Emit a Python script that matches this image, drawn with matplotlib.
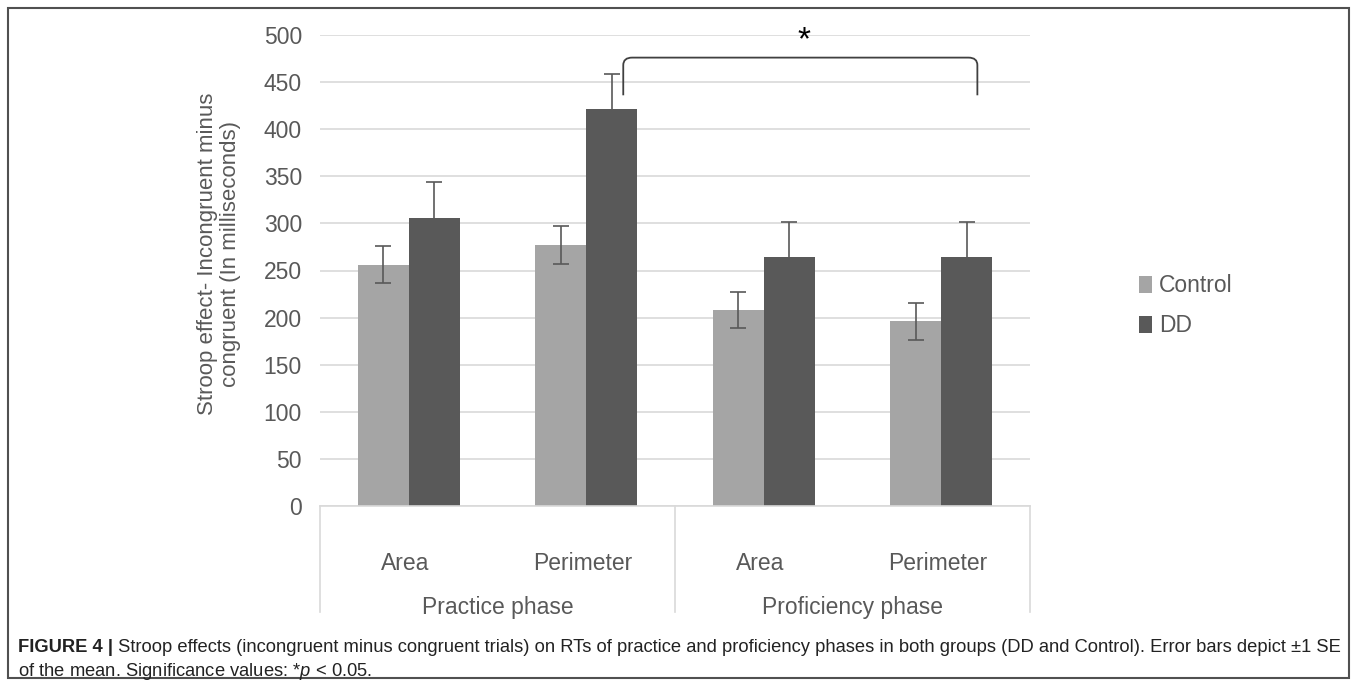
"""Stroop effect bar chart (Figure 4)"""

import matplotlib
matplotlib.use("Agg")
import matplotlib.pyplot as plt
from matplotlib.patches import Rectangle, PathPatch
from matplotlib.path import Path
import numpy as np

plt.rcParams['font.family'] = ['Liberation Sans', 'DejaVu Sans']
plt.rcParams['mathtext.fontset'] = 'custom'
plt.rcParams['mathtext.it'] = 'Liberation Sans:italic'
plt.rcParams['mathtext.rm'] = 'Liberation Sans'

# data
conditions = ['Area', 'Perimeter', 'Area', 'Perimeter']
phases = ['Practice phase', 'Proficiency phase']
control_mean = [256, 277, 208, 196]
control_se = [19.5, 19.8, 19.5, 20]
dd_mean = [306, 421, 264, 264]
dd_se = [37.5, 37.8, 38, 38]
groups = ['Control', 'DD']

grey = '#595959'
light = '#A5A5A5'
grid = '#D9D9D9'
W, H = 1357, 683

fig = plt.figure(figsize=(W / 100, H / 100), dpi=100)
ax = fig.add_axes([320 / W, 1 - 506 / H, 710 / W, (506 - 35) / H])

x = np.arange(len(conditions))
bw = 0.287
ax.bar(x - bw / 2, control_mean, bw, color=light, label=groups[0], zorder=2)
ax.bar(x + bw / 2, dd_mean, bw, color=grey, label=groups[1], zorder=2)
ax.errorbar(x - bw / 2, control_mean, yerr=control_se, fmt='none', ecolor=grey,
            elinewidth=1.2, capsize=6, capthick=1.2, zorder=3)
ax.errorbar(x + bw / 2, dd_mean, yerr=dd_se, fmt='none', ecolor=grey,
            elinewidth=1.2, capsize=6, capthick=1.2, zorder=3)

ax.set_xlim(-0.5, len(conditions) - 0.5)
ax.set_ylim(0, 500)
ax.set_yticks(np.arange(0, 501, 50))
ax.yaxis.grid(True, color=grid, lw=1.2, zorder=0)
ax.set_axisbelow(True)
for s in ['top', 'right', 'left']:
    ax.spines[s].set_visible(False)
ax.spines['bottom'].set_color(grid)
ax.spines['bottom'].set_linewidth(1.2)
ax.tick_params(axis='y', length=0, pad=13, labelsize=16.5, labelcolor=grey)
ax.set_xticks([])

# multi level category axis
for i, c in enumerate(conditions):
    ax.text(i - 0.02, -0.122, c, transform=ax.get_xaxis_transform(),
            ha='center', va='center', fontsize=16.5, color=grey)
for j, p in enumerate(phases):
    ax.text(2 * j + 0.5, -0.215, p, transform=ax.get_xaxis_transform(),
            ha='center', va='center', fontsize=16.5, color=grey)
for xv in [-0.5, 1.5, 3.5]:
    ax.plot([xv, xv], [0, -0.225], transform=ax.get_xaxis_transform(),
            color=grid, lw=1.2, clip_on=False)

ax.set_ylabel('Stroop effect- Incongruent minus\ncongruent (In milliseconds)',
              fontsize=16, color=grey, linespacing=1.12)
ax.yaxis.set_label_coords(-0.111, 0.535)

# significance bracket between practice perimeter and proficiency perimeter (DD)
x0 = 1 + bw / 2 + 0.065
x1 = 3 + bw / 2 + 0.06
y0, y1 = 436, 476
verts = [(x0, y0), (x0, y1 - 8), (x0, y1), (x0 + 0.05, y1),
         (x1 - 0.05, y1), (x1, y1), (x1, y1 - 8), (x1, y0)]
codes = [Path.MOVETO, Path.LINETO, Path.CURVE3, Path.CURVE3,
         Path.LINETO, Path.CURVE3, Path.CURVE3, Path.LINETO]
ax.add_patch(PathPatch(Path(verts, codes), fill=False, ec='#404040', lw=1.3,
                       clip_on=False))
ax.text((x0 + x1) / 2 + 0.02, 494, '*', ha='center', va='center', fontsize=24,
        color='black', clip_on=False)

ax.legend(loc='center left', bbox_to_anchor=(1.125, 0.425), frameon=False,
          fontsize=16.5, labelcolor=grey, handlelength=0.55, handleheight=0.8,
          handletextpad=0.3, labelspacing=0.75)

# caption
cap = 13.2
t1 = fig.text(18 / W, 1 - 648 / H, 'FIGURE 4 |', fontsize=cap,
              fontweight='bold', va='center', color='#222222')
ax.annotate(' Stroop effects (incongruent minus congruent trials) on RTs of '
            'practice and proficiency phases in both groups (DD and Control). '
            'Error bars depict \u00b11 SE', xy=(1, 0.5), xycoords=t1,
            va='center', fontsize=cap, color='#222222', annotation_clip=False)
fig.text(18 / W, 1 - 671 / H,
         r'of the mean. Significance values: *$\mathit{p}$ < 0.05.',
         fontsize=cap, va='center', color='#222222')

fig.patches.append(Rectangle((8 / W, 1 - 678 / H), (1349 - 8) / W,
                             (678 - 8) / H, transform=fig.transFigure,
                             fill=False, ec='#505050', lw=1.5))

fig.savefig('out.png', dpi=100)
